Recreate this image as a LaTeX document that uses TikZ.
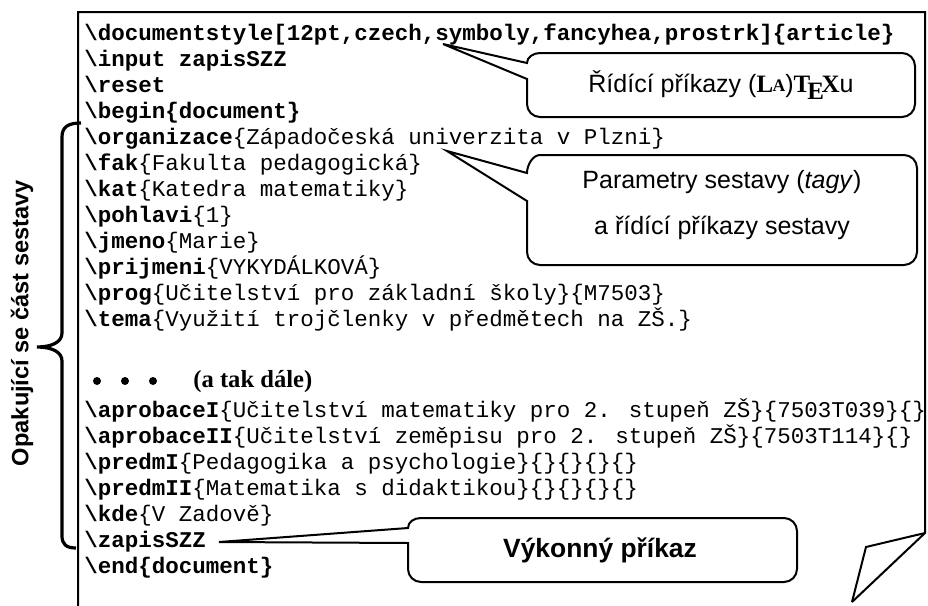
\documentclass[tikz,border=0pt]{standalone}
\usepackage{fontspec}
\usepackage{graphicx}
\setmainfont{Liberation Sans}
\newfontfamily\lsans{Liberation Sans}
\newfontfamily\lserif{Liberation Serif}
\newfontfamily\lmono{Liberation Mono}
\tikzset{
  codeline/.style={anchor=base west, inner sep=0pt, font=\lmono\fontsize{11.25}{13}\selectfont},
  frameline/.style={draw=black, line width=1pt, line join=miter},
  balloon/.style={draw=black, line width=1pt, line join=miter, fill=white},
  calltext/.style={inner sep=0pt, font=\lsans\fontsize{12.5}{15}\selectfont},
  bracestyle/.style={draw=black, line width=1.6pt, line cap=butt},
  dotmark/.style={circle, fill=black, inner sep=0pt, minimum size=4pt},
}
\begin{document}
\begin{tikzpicture}[x=0.5pt,y=-0.5pt]
\useasboundingbox (0,0) rectangle (928,606);
% page outline with folded corner
\draw[frameline] (78,606) -- (78,12) -- (925,12) -- (925,533) -- (852,602);
\draw[frameline] (925,533) -- (866,547) -- (852,602);
% code lines
\node[codeline] (l1) at (84,40) {\textbf{\textbackslash documentstyle[12pt,czech,symboly,fancyhea,prostrk]\{article\}}};
\node[codeline] (l2) at (84,66) {\textbf{\textbackslash input zapisSZZ}};
\node[codeline] (l3) at (84,92) {\textbf{\textbackslash reset}};
\node[codeline] (l4) at (84,118) {\textbf{\textbackslash begin\{document\}}};
\node[codeline] (l5) at (84,144) {\textbf{\textbackslash organizace}\{Západočeská univerzita v Plzni\}};
\node[codeline] (l6) at (84,170) {\textbf{\textbackslash fak}\{Fakulta pedagogická\}};
\node[codeline] (l7) at (84,196) {\textbf{\textbackslash kat}\{Katedra matematiky\}};
\node[codeline] (l8) at (84,222) {\textbf{\textbackslash pohlavi}\{1\}};
\node[codeline] (l9) at (84,248) {\textbf{\textbackslash jmeno}\{Marie\}};
\node[codeline] (l10) at (84,274) {\textbf{\textbackslash prijmeni}\{VYKYDÁLKOVÁ\}};
\node[codeline] (l11) at (84,300) {\textbf{\textbackslash prog}\{Učitelství pro základní školy\}\{M7503\}};
\node[codeline] (l12) at (84,326) {\textbf{\textbackslash tema}\{Využití trojčlenky v předmětech na ZŠ.\}};
% "and so on" line
\node[dotmark] (d1) at (97,381) {};
\node[dotmark] (d2) at (125,381) {};
\node[dotmark] (d3) at (153,381) {};
\node[anchor=base west, inner sep=0pt, font=\lserif\bfseries\fontsize{12.3}{14}\selectfont] (etc) at (193,387) {(a tak dále)};
\node[codeline] (l13) at (84,417) {\textbf{\textbackslash aprobaceI}\{Učitelství matematiky pro 2. stupeň ZŠ\}\{7503T039\}\{\}};
\node[codeline] (l14) at (84,443) {\textbf{\textbackslash aprobaceII}\{Učitelství zeměpisu pro 2. stupeň ZŠ\}\{7503T114\}\{\}};
\node[codeline] (l15) at (84,469) {\textbf{\textbackslash predmI}\{Pedagogika a psychologie\}\{\}\{\}\{\}\{\}};
\node[codeline] (l16) at (84,495) {\textbf{\textbackslash predmII}\{Matematika s didaktikou\}\{\}\{\}\{\}\{\}};
\node[codeline] (l17) at (84,521) {\textbf{\textbackslash kde}\{V Zadově\}};
\node[codeline] (l18) at (84,547) {\textbf{\textbackslash zapisSZZ}};
\node[codeline] (l19) at (84,573) {\textbf{\textbackslash end\{document\}}};
% brace and its label
\draw[bracestyle] (81,123) .. controls (68,123) and (62,127) .. (62,137) -- (62,333)
  .. controls (62,342) and (52,347) .. (37,347)
  .. controls (52,347) and (62,352) .. (62,361) -- (62,536)
  .. controls (62,544) and (66,548) .. (76,548);
\node[rotate=90, inner sep=0pt, font=\lsans\bfseries\fontsize{11.8}{14}\selectfont] (lab) at (22,323) {Opakující se část sestavy};
% callout 1
\coordinate (t1) at (443,44);
\draw[balloon] (t1) -- (527,63) .. controls (527,57.5) and (532.8,53) .. (540,53) -- (902,53)
  .. controls (909.2,53) and (915,58.8) .. (915,66) -- (915,104)
  .. controls (915,111.2) and (909.2,117) .. (902,117) -- (540,117)
  .. controls (532.8,117) and (527,111.2) .. (527,104) -- (527,79) -- cycle;
\node[calltext] (c1) at (721,85) {Řídící příkazy ({\lserif\bfseries L\kern-.02em\raisebox{.04em}{\fontsize{8.8}{10}\selectfont A}}){\lserif\bfseries T\kern-.12em\lower.55ex\hbox{E}\kern-.1em X}u};
% callout 2
\coordinate (t2) at (447,151);
\draw[balloon] (t2) -- (527,173) .. controls (527,165) and (532.8,155) .. (540,155) -- (904,155)
  .. controls (911.2,155) and (917,160.8) .. (917,168) -- (917,252)
  .. controls (917,259.2) and (911.2,265) .. (904,265) -- (540,265)
  .. controls (532.8,265) and (527,259.2) .. (527,252) -- (527,201) -- cycle;
\node[calltext] (c2a) at (722,182) {Parametry sestavy (\textit{tagy})};
\node[calltext] (c2b) at (722,228) {a řídící příkazy sestavy};
% callout 3
\coordinate (t3) at (219,542);
\draw[balloon] (t3) -- (408,528) .. controls (408,522) and (413.8,518) .. (421,518) -- (784,518)
  .. controls (791.2,518) and (797,523.8) .. (797,531) -- (797,569)
  .. controls (797,576.2) and (791.2,582) .. (784,582) -- (421,582)
  .. controls (413.8,582) and (408,576.2) .. (408,569) -- (408,543) -- cycle;
\node[calltext, font=\lsans\bfseries\fontsize{13.2}{16}\selectfont] (c3) at (600,550) {Výkonný příkaz};
\end{tikzpicture}
\end{document}
